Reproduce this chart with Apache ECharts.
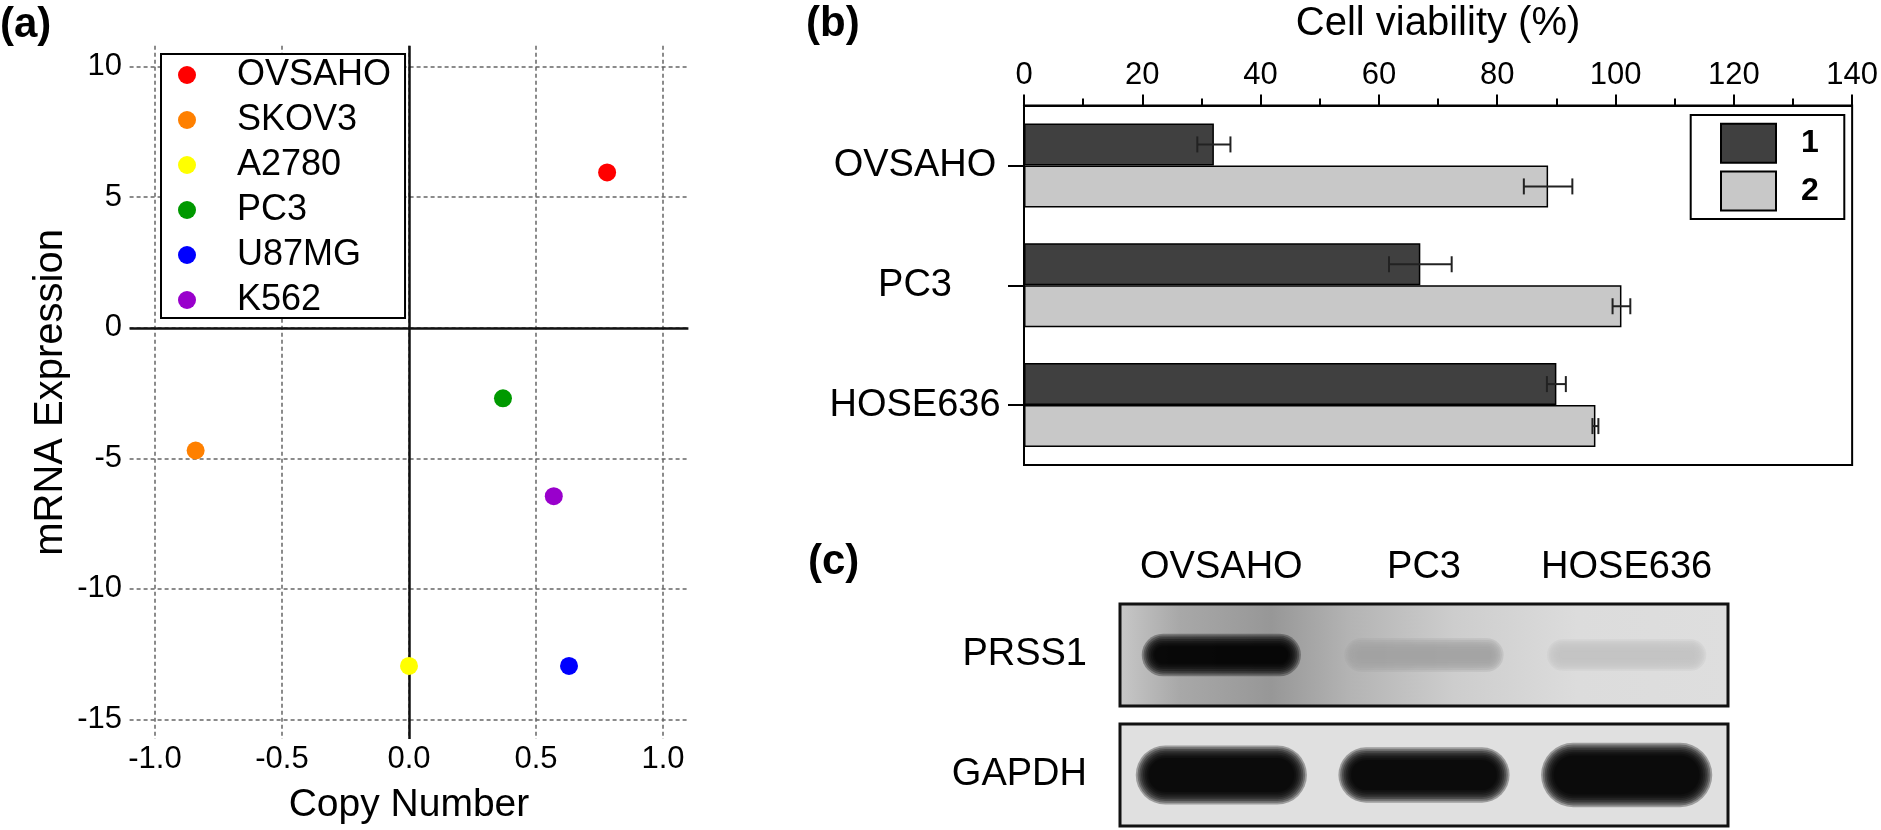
<!DOCTYPE html>
<html><head><meta charset="utf-8">
<script src="https://cdn.jsdelivr.net/npm/echarts@6/dist/echarts.min.js"></script>
<style>html,body{margin:0;padding:0;background:#fff}#c{width:1881px;height:830px}</style>
</head><body><div id="c"></div>
<script>
const FONT = '"Liberation Sans", Arial, sans-serif';

// ---- Panel (a): copy number vs mRNA expression ----
const cellLines = ['OVSAHO', 'SKOV3', 'A2780', 'PC3', 'U87MG', 'K562'];
const copyNumber = [0.78, -0.84, 0.0, 0.37, 0.63, 0.57];
const mrnaExpression = [5.95, -4.7, -12.95, -2.7, -12.95, -6.45];
const cellColors = ['#ff0000', '#ff8000', '#ffff00', '#009900', '#0000ff', '#9900cc'];
const xTicksA = [-1.0, -0.5, 0, 0.5, 1.0];
const yTicksA = [-15, -10, -5, 0, 5, 10];

// ---- Panel (b): cell viability ----
const viabilityLines = ['OVSAHO', 'PC3', 'HOSE636'];
const viability1 = [32.1, 67.0, 90.0];
const viability1Err = [2.8, 5.3, 1.6];
const viability2 = [88.6, 101.0, 96.6];
const viability2Err = [4.1, 1.5, 0.5];

// ---- Panel (c): western blot band signal ----
const blotLanes = ['OVSAHO', 'PC3', 'HOSE636'];
const prss1Signal = [0.95, 0.18, 0.04];
const gapdhSignal = [1.0, 0.85, 1.2];

const chart = echarts.init(document.getElementById('c'), null, {renderer: 'canvas'});

const dashed = {color: '#666', width: 1.5, type: [4, 3]};

function errRender(offset) {
  return function (params, api) {
    const cat = api.value(0), v = api.value(1), e = api.value(2);
    const lo = api.coord([v - e, cat]);
    const hi = api.coord([v + e, cat]);
    const y = lo[1] + offset;
    const cap = 8;
    const st = {stroke: '#222', lineWidth: 2};
    return {type: 'group', children: [
      {type: 'line', shape: {x1: lo[0], y1: y, x2: hi[0], y2: y}, style: st},
      {type: 'line', shape: {x1: lo[0], y1: y - cap, x2: lo[0], y2: y + cap}, style: st},
      {type: 'line', shape: {x1: hi[0], y1: y - cap, x2: hi[0], y2: y + cap}, style: st}
    ]};
  };
}

// soft-edged blot band: stacked translucent pills to imitate blur
const LAYERS = 8, STEP = 1.8, LAYER_ALPHA = 0.3;
function bandRender(bg, baseW, hFn) {
  return function (params, api) {
    const p = api.coord([api.value(0), api.value(1)]);
    const s = api.value(2);
    const lv = Math.round(bg * Math.max(0, 1 - s / 0.85));
    const c = 'rgb(' + lv + ',' + lv + ',' + lv + ')';
    const h = hFn(s);
    const children = [];
    for (let k = LAYERS - 1; k >= 0; k--) {
      const ww = baseW + 2 * k * STEP, hh = h + 2 * k * STEP;
      children.push({type: 'rect',
        shape: {x: p[0] - ww / 2, y: p[1] - hh / 2, width: ww, height: hh, r: hh / 2},
        style: {fill: c, opacity: LAYER_ALPHA}});
    }
    return {type: 'group', children: children};
  };
}

const scatterSeries = cellLines.map((name, i) => ({
  type: 'scatter', name: name, xAxisIndex: 0, yAxisIndex: 0,
  data: [[copyNumber[i], mrnaExpression[i]]],
  symbolSize: 18, itemStyle: {color: cellColors[i], opacity: 1}, z: 6
}));
scatterSeries[0].markLine = {
  silent: true, symbol: ['none', 'none'], label: {show: false},
  lineStyle: {color: '#111', width: 2.5, type: 'solid'},
  emphasis: {disabled: true},
  data: [{xAxis: 0}, {yAxis: 0}]
};

const option = {
  backgroundColor: '#fff',
  animation: false,
  textStyle: {fontFamily: FONT, color: '#000'},
  grid: [
    {left: 129.6, top: 45.8, width: 558.8, height: 694.6},
    {left: 1024, top: 105.5, width: 831.7, height: 359.5, show: true, borderColor: '#000', borderWidth: 2, backgroundColor: 'transparent'},
    {left: 1120, top: 604, width: 608, height: 102, show: true, borderColor: '#111', borderWidth: 3,
     backgroundColor: {type: 'linear', x: 0, y: 0, x2: 1, y2: 0, colorStops: [
       {offset: 0, color: '#c8c8c8'}, {offset: 0.1, color: '#a8a8a8'}, {offset: 0.25, color: '#979797'},
       {offset: 0.38, color: '#b4b4b4'}, {offset: 0.55, color: '#cdcdcd'}, {offset: 0.75, color: '#dcdcdc'},
       {offset: 1, color: '#dedede'}]}},
    {left: 1120, top: 724, width: 608, height: 102, show: true, borderColor: '#111', borderWidth: 3, backgroundColor: '#e0e0e0'}
  ],
  legend: [
    {
      data: cellLines, orient: 'vertical', left: 161, top: 54,
      padding: [3, 14, 0, 17], itemWidth: 32, itemHeight: 18, itemGap: 9,
      icon: 'circle', backgroundColor: '#fff', borderColor: '#000', borderWidth: 2,
      textStyle: {fontFamily: FONT, fontSize: 36, color: '#000', lineHeight: 34, padding: [0, 0, 0, 29]},
      selectedMode: false
    },
    {
      data: ['1', '2'], orient: 'vertical', left: 1690.7, top: 115,
      padding: [7.7, 25.5, 7.6, 29.3], itemWidth: 55, itemHeight: 39, itemGap: 6.7,
      icon: 'rect', backgroundColor: '#fff', borderColor: '#000', borderWidth: 2,
      textStyle: {fontFamily: FONT, fontSize: 32, fontWeight: 'bold', color: '#000', padding: [0, 0, 0, 20]},
      selectedMode: false
    }
  ],
  xAxis: [
    {
      gridIndex: 0, type: 'value', min: -1.1, max: 1.1,
      axisLine: {show: false}, axisTick: {show: false, customValues: xTicksA},
      axisLabel: {customValues: xTicksA, fontSize: 31, color: '#000', margin: 5, fontFamily: FONT,
        formatter: v => v.toFixed(1)},
      splitLine: {show: true, lineStyle: dashed},
      name: 'Copy Number', nameLocation: 'middle', nameGap: 47,
      nameTextStyle: {fontSize: 39, color: '#000', fontFamily: FONT}
    },
    {
      gridIndex: 1, type: 'value', position: 'top', min: 0, max: 140, interval: 20,
      axisLine: {show: true, lineStyle: {color: '#000', width: 2}},
      axisTick: {show: true, length: 11, lineStyle: {color: '#000', width: 2}},
      minorTick: {show: true, splitNumber: 2, length: 7, lineStyle: {color: '#000', width: 2}},
      axisLabel: {fontSize: 31, color: '#000', margin: 15, fontFamily: FONT},
      splitLine: {show: false},
      name: 'Cell viability (%)', nameLocation: 'middle', nameGap: 62,
      nameTextStyle: {fontSize: 40, color: '#000', fontFamily: FONT}
    },
    {
      gridIndex: 2, type: 'category', data: blotLanes, position: 'top',
      axisLine: {show: false}, axisTick: {show: false},
      axisLabel: {fontSize: 38, color: '#000', margin: 17, fontFamily: FONT, interval: 0, hideOverlap: false},
      splitLine: {show: false}
    },
    {gridIndex: 3, type: 'category', data: blotLanes, show: false}
  ],
  yAxis: [
    {
      gridIndex: 0, type: 'value', min: -15.75, max: 10.8,
      axisLine: {show: false}, axisTick: {show: false, customValues: yTicksA},
      axisLabel: {customValues: yTicksA, fontSize: 31, color: '#000', margin: 7.6, fontFamily: FONT},
      splitLine: {show: true, lineStyle: dashed},
      name: 'mRNA Expression', nameLocation: 'middle', nameGap: 59,
      nameTextStyle: {fontSize: 40, color: '#000', fontFamily: FONT}
    },
    {
      gridIndex: 1, type: 'category', data: viabilityLines, inverse: true,
      axisLine: {show: true, lineStyle: {color: '#000', width: 2}},
      axisTick: {show: true, alignWithLabel: true, length: 16, lineStyle: {color: '#000', width: 2}},
      axisLabel: {fontSize: 38, color: '#000', align: 'center', margin: 109, fontFamily: FONT},
      splitLine: {show: false}
    },
    {
      gridIndex: 2, type: 'category', data: ['PRSS1'],
      axisLine: {show: false}, axisTick: {show: false},
      axisLabel: {fontSize: 38, color: '#000', margin: 33, fontFamily: FONT}
    },
    {
      gridIndex: 3, type: 'category', data: ['GAPDH'],
      axisLine: {show: false}, axisTick: {show: false},
      axisLabel: {fontSize: 38, color: '#000', margin: 33, fontFamily: FONT}
    }
  ],
  series: scatterSeries.concat([
    {
      type: 'bar', name: '1', xAxisIndex: 1, yAxisIndex: 1, data: viability1,
      barWidth: 42, barGap: '0%',
      itemStyle: {color: '#404040', borderColor: '#000', borderWidth: 1.5}
    },
    {
      type: 'bar', name: '2', xAxisIndex: 1, yAxisIndex: 1, data: viability2,
      barWidth: 42, barGap: '0%',
      itemStyle: {color: '#c8c8c8', borderColor: '#000', borderWidth: 1.5}
    },
    {
      type: 'custom', xAxisIndex: 1, yAxisIndex: 1, z: 10, silent: true,
      encode: {x: 1, y: 0},
      data: viabilityLines.map((c, i) => [i, viability1[i], viability1Err[i]]),
      renderItem: errRender(-21)
    },
    {
      type: 'custom', xAxisIndex: 1, yAxisIndex: 1, z: 10, silent: true,
      encode: {x: 1, y: 0},
      data: viabilityLines.map((c, i) => [i, viability2[i], viability2Err[i]]),
      renderItem: errRender(21)
    },
    {
      type: 'custom', xAxisIndex: 2, yAxisIndex: 2, silent: true, clip: true,
      encode: {x: 0, y: 1},
      data: blotLanes.map((l, i) => [i, 0, prss1Signal[i]]),
      renderItem: bandRender(205, 134, s => 6 + 12 * s)
    },
    {
      type: 'custom', xAxisIndex: 3, yAxisIndex: 3, silent: true, clip: true,
      encode: {x: 0, y: 1},
      data: blotLanes.map((l, i) => [i, 0, gapdhSignal[i]]),
      renderItem: bandRender(224, 146, s => 8 + 26 * s)
    }
  ]),
  graphic: [
    {type: 'text', left: 0, top: 4, style: {text: '(a)', font: 'bold 42px ' + FONT, fill: '#000'}},
    {type: 'text', left: 806, top: 3, style: {text: '(b)', font: 'bold 42px ' + FONT, fill: '#000'}},
    {type: 'text', left: 808, top: 541, style: {text: '(c)', font: 'bold 42px ' + FONT, fill: '#000'}}
  ]
};
chart.setOption(option);
</script>
</body></html>
